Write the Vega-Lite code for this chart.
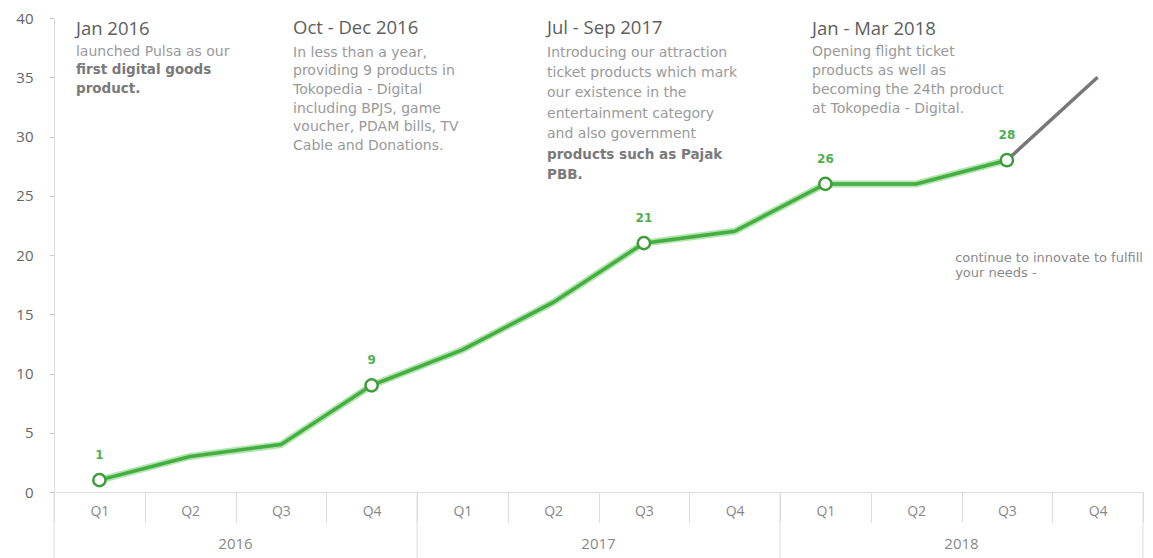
{
  "$schema": "https://vega.github.io/schema/vega-lite/v6.json",
  "width": 1089,
  "height": 474,
  "autosize": {"type": "none"},
  "padding": {"left": 54, "top": 18, "right": 10, "bottom": 66},
  "background": "white",
  "config": {"view": {"stroke": null}, "font": "DejaVu Sans"},
  "datasets": {
    "series": [
      {"quarter": "2016 Q1", "qpos": 0.5, "products": 1, "series": "actual", "milestone": true},
      {"quarter": "2016 Q2", "qpos": 1.5, "products": 3, "series": "actual", "milestone": false},
      {"quarter": "2016 Q3", "qpos": 2.5, "products": 4, "series": "actual", "milestone": false},
      {"quarter": "2016 Q4", "qpos": 3.5, "products": 9, "series": "actual", "milestone": true},
      {"quarter": "2017 Q1", "qpos": 4.5, "products": 12, "series": "actual", "milestone": false},
      {"quarter": "2017 Q2", "qpos": 5.5, "products": 16, "series": "actual", "milestone": false},
      {"quarter": "2017 Q3", "qpos": 6.5, "products": 21, "series": "actual", "milestone": true},
      {"quarter": "2017 Q4", "qpos": 7.5, "products": 22, "series": "actual", "milestone": false},
      {"quarter": "2018 Q1", "qpos": 8.5, "products": 26, "series": "actual", "milestone": true},
      {"quarter": "2018 Q2", "qpos": 9.5, "products": 26, "series": "actual", "milestone": false},
      {"quarter": "2018 Q3", "qpos": 10.5, "products": 28, "series": "actual", "milestone": true},
      {"quarter": "2018 Q3", "qpos": 10.5, "products": 28, "series": "outlook", "milestone": false},
      {"quarter": "2018 Q4", "qpos": 11.5, "products": 35, "series": "outlook", "milestone": false}
    ],
    "years": [
      {"year": "2016", "start": 0, "mid": 2},
      {"year": "2017", "start": 4, "mid": 6},
      {"year": "2018", "start": 8, "mid": 10}
    ],
    "notes": [
      {"pos": 0.242, "val": 39.07, "kind": "title", "text": "Jan 2016"},
      {"pos": 0.242, "val": 37.13, "kind": "body", "text": "launched Pulsa as our"},
      {"pos": 0.242, "val": 35.57, "kind": "bold", "text": "first digital goods"},
      {"pos": 0.242, "val": 34.0, "kind": "bold", "text": "product."},
      {"pos": 2.634, "val": 39.16, "kind": "title", "text": "Oct - Dec 2016"},
      {"pos": 2.634, "val": 37.05, "kind": "body", "text": "In less than a year,"},
      {"pos": 2.634, "val": 35.49, "kind": "body", "text": "providing 9 products in"},
      {"pos": 2.634, "val": 33.92, "kind": "body", "text": "Tokopedia - Digital"},
      {"pos": 2.634, "val": 32.36, "kind": "body", "text": "including BPJS, game"},
      {"pos": 2.634, "val": 30.8, "kind": "body", "text": "voucher, PDAM bills, TV"},
      {"pos": 2.634, "val": 29.24, "kind": "body", "text": "Cable and Donations."},
      {"pos": 5.433, "val": 39.16, "kind": "title", "text": "Jul - Sep 2017"},
      {"pos": 5.433, "val": 37.05, "kind": "body", "text": "Introducing our attraction"},
      {"pos": 5.433, "val": 35.36, "kind": "body", "text": "ticket products which mark"},
      {"pos": 5.433, "val": 33.67, "kind": "body", "text": "our existence in the"},
      {"pos": 5.433, "val": 31.9, "kind": "body", "text": "entertainment category"},
      {"pos": 5.433, "val": 30.21, "kind": "body", "text": "and also government"},
      {"pos": 5.433, "val": 28.44, "kind": "bold", "text": "products such as Pajak"},
      {"pos": 5.433, "val": 26.75, "kind": "bold", "text": "PBB."},
      {"pos": 8.353, "val": 39.07, "kind": "title", "text": "Jan - Mar 2018"},
      {"pos": 8.353, "val": 37.13, "kind": "body", "text": "Opening flight ticket"},
      {"pos": 8.353, "val": 35.53, "kind": "body", "text": "products as well as"},
      {"pos": 8.353, "val": 33.92, "kind": "body", "text": "becoming the 24th product"},
      {"pos": 8.353, "val": 32.36, "kind": "body", "text": "at Tokopedia - Digital."},
      {"pos": 9.93, "val": 19.75, "kind": "note", "text": "continue to innovate to fulfill"},
      {"pos": 9.93, "val": 18.48, "kind": "note", "text": "your needs -"}
    ]
  },
  "layer": [
    {
      "data": {"name": "series"},
      "transform": [{"filter": "datum.series == 'outlook'"}],
      "mark": {"type": "line", "color": "#777777", "strokeWidth": 3.5},
      "encoding": {
        "x": {
          "field": "qpos",
          "type": "quantitative",
          "title": null,
          "scale": {"domain": [0, 12], "nice": false, "zero": false},
          "axis": {
            "values": [0, 1, 2, 3, 4, 5, 6, 7, 8, 9, 10, 11, 12],
            "labelExpr": "datum.value < 12 ? 'Q' + (datum.value % 4 + 1) : ''",
            "labelOffset": 45.4,
            "labelFlush": false,
            "labelOverlap": false,
            "labelBound": false,
            "labelAngle": 0,
            "grid": false,
            "tickSize": 30,
            "tickColor": "#dddddd",
            "domainColor": "#dddddd",
            "labelPadding": -18,
            "labelColor": "#888888",
            "labelFont": "Open Sans",
            "labelFontSize": 14
          }
        },
        "y": {
          "field": "products",
          "type": "quantitative",
          "title": null,
          "scale": {"domain": [0, 40], "nice": false},
          "axis": {
            "values": [0, 5, 10, 15, 20, 25, 30, 35, 40],
            "grid": false,
            "domainColor": "#dddddd",
            "tickColor": "#cccccc",
            "tickSize": 5,
            "labelPadding": 16,
            "labelColor": "#666666",
            "labelFont": "Open Sans",
            "labelFontSize": 15
          }
        }
      }
    },
    {
      "data": {"name": "series"},
      "transform": [{"filter": "datum.series == 'actual'"}],
      "mark": {"type": "line", "color": "#8fdc8a", "strokeWidth": 7, "opacity": 0.7},
      "encoding": {
        "x": {"field": "qpos", "type": "quantitative", "title": null},
        "y": {"field": "products", "type": "quantitative", "title": null}
      }
    },
    {
      "data": {"name": "series"},
      "transform": [{"filter": "datum.series == 'actual'"}],
      "mark": {"type": "line", "color": "#46ad42", "strokeWidth": 3.5},
      "encoding": {
        "x": {"field": "qpos", "type": "quantitative", "title": null},
        "y": {"field": "products", "type": "quantitative", "title": null}
      }
    },
    {
      "data": {"name": "series"},
      "transform": [{"filter": "datum.series == 'actual' && datum.milestone"}],
      "mark": {"type": "point", "filled": true, "fill": "white", "stroke": "#3e9c3b", "strokeWidth": 2.5, "size": 150, "opacity": 1},
      "encoding": {
        "x": {"field": "qpos", "type": "quantitative", "title": null},
        "y": {"field": "products", "type": "quantitative", "title": null}
      }
    },
    {
      "data": {"name": "series"},
      "transform": [{"filter": "datum.series == 'actual' && datum.milestone"}],
      "mark": {"type": "text", "color": "#4caf50", "fontWeight": "bold", "fontSize": 12, "dy": -25},
      "encoding": {
        "x": {"field": "qpos", "type": "quantitative", "title": null},
        "y": {"field": "products", "type": "quantitative", "title": null},
        "text": {"field": "products", "type": "quantitative"}
      }
    },
    {
      "data": {"name": "years"},
      "mark": {"type": "rule", "color": "#dddddd", "strokeWidth": 1},
      "encoding": {
        "x": {"field": "start", "type": "quantitative", "title": null},
        "y": {"datum": 0, "type": "quantitative"},
        "y2": {"datum": -5.6}
      }
    },
    {
      "data": {"values": [{"edge": 12}]},
      "mark": {"type": "rule", "color": "#dddddd", "strokeWidth": 1},
      "encoding": {
        "x": {"field": "edge", "type": "quantitative", "title": null},
        "y": {"datum": 0, "type": "quantitative"},
        "y2": {"datum": -5.6}
      }
    },
    {
      "data": {"name": "years"},
      "mark": {"type": "text", "baseline": "middle", "align": "center", "font": "Open Sans", "fontSize": 15, "color": "#888888"},
      "encoding": {
        "x": {"field": "mid", "type": "quantitative", "title": null},
        "y": {"datum": -4.4, "type": "quantitative"},
        "text": {"field": "year", "type": "nominal"}
      }
    },
    {
      "data": {"name": "notes"},
      "transform": [{"filter": "datum.kind == 'title'"}],
      "mark": {"type": "text", "align": "left", "baseline": "middle", "font": "Open Sans", "fontWeight": 500, "fontSize": 18.5, "color": "#5e5e5e"},
      "encoding": {
        "x": {"field": "pos", "type": "quantitative", "title": null},
        "y": {"field": "val", "type": "quantitative", "title": null},
        "text": {"field": "text", "type": "nominal"}
      }
    },
    {
      "data": {"name": "notes"},
      "transform": [{"filter": "datum.kind == 'body'"}],
      "mark": {"type": "text", "align": "left", "baseline": "middle", "font": "DejaVu Sans", "fontSize": 14, "color": "#9a9a9a"},
      "encoding": {
        "x": {"field": "pos", "type": "quantitative", "title": null},
        "y": {"field": "val", "type": "quantitative", "title": null},
        "text": {"field": "text", "type": "nominal"}
      }
    },
    {
      "data": {"name": "notes"},
      "transform": [{"filter": "datum.kind == 'bold'"}],
      "mark": {"type": "text", "align": "left", "baseline": "middle", "font": "DejaVu Sans", "fontWeight": "bold", "fontSize": 13.5, "color": "#7a7a7a"},
      "encoding": {
        "x": {"field": "pos", "type": "quantitative", "title": null},
        "y": {"field": "val", "type": "quantitative", "title": null},
        "text": {"field": "text", "type": "nominal"}
      }
    },
    {
      "data": {"name": "notes"},
      "transform": [{"filter": "datum.kind == 'note'"}],
      "mark": {"type": "text", "align": "left", "baseline": "middle", "font": "DejaVu Sans", "fontSize": 13, "color": "#8a8a8a"},
      "encoding": {
        "x": {"field": "pos", "type": "quantitative", "title": null},
        "y": {"field": "val", "type": "quantitative", "title": null},
        "text": {"field": "text", "type": "nominal"}
      }
    }
  ]
}
